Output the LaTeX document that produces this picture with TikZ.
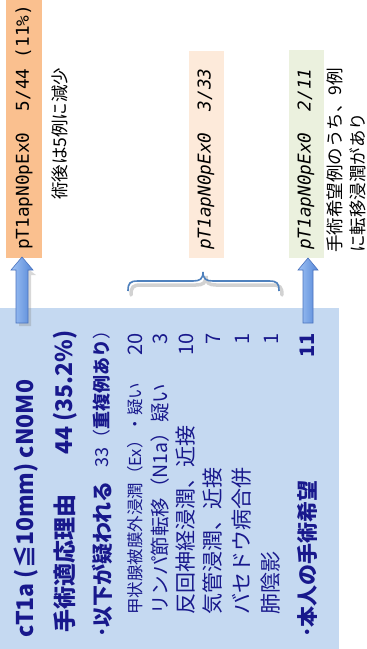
\documentclass[tikz,border=0pt]{standalone}
\usepackage{fontspec}
\setmainfont{Noto Sans CJK JP}
\newfontfamily\monof{DejaVu Sans Mono}
\definecolor{boxblue}{RGB}{197,217,241}
\definecolor{navy}{RGB}{24,24,140}
\definecolor{peach}{RGB}{250,192,143}
\definecolor{lpeach}{RGB}{253,234,218}
\definecolor{lgreen}{RGB}{235,241,222}
\definecolor{bracec}{RGB}{79,129,189}
\definecolor{arrowL}{RGB}{160,195,245}
\definecolor{arrowD}{RGB}{85,135,215}
\definecolor{arrowE}{RGB}{75,115,190}
\begin{document}
\begin{tikzpicture}[x=1pt,y=-1pt,
  panel/.style={inner sep=0pt,outer sep=0pt,anchor=north west},
  vt/.style={rotate=90,anchor=west,inner sep=0pt,text=navy},
  num/.style={rotate=90,anchor=east,inner sep=0pt,text=navy,font=\fontsize{20}{20}\selectfont},
  lbl/.style={rotate=90,anchor=west,inner sep=0pt,font=\monof\fontsize{17.7}{18}\selectfont},
  note/.style={rotate=90,anchor=west,inner sep=0pt,font=\fontsize{17.5}{18}\selectfont},
  blockarrow/.style={left color=arrowL,right color=arrowD,draw=arrowE,line width=0.6pt},
  bigb/.style={font=\bfseries\fontsize{23}{23}\selectfont},
  midb/.style={font=\bfseries\fontsize{21}{21}\selectfont},
  item/.style={font=\fontsize{21}{21}\selectfont},
]
\useasboundingbox (0,0) rectangle (367,649);
\fill[white] (0,0) rectangle (367,649);
% panels
\node[panel,fill=boxblue,minimum width=339pt,minimum height=341pt] (main) at (0,308) {};
\node[panel,fill=peach,minimum width=36pt,minimum height=258pt] (res1) at (6,0) {};
\node[panel,fill=lpeach,minimum width=35pt,minimum height=207pt] (res2) at (189,51) {};
\node[panel,fill=lgreen,minimum width=35pt,minimum height=208pt] (res3) at (289,50) {};
% labels in result boxes
\node[lbl] (l1) at (24,250) {pT1apN0pEx0~~5/44~(11\%)};
\node[lbl,font=\monof\itshape\fontsize{17.7}{18}\selectfont] (l2) at (206,250) {pT1apN0pEx0~~3/33};
\node[lbl,font=\monof\itshape\fontsize{17.7}{18}\selectfont] (l3) at (306,250) {pT1apN0pEx0~~2/11};
% notes
\node[note] (n1) at (60,200) {術後は5例に減少};
\node[note] (n2) at (335,253) {手術希望例のうち、9例};
\node[note] (n3) at (358,253) {に転移浸潤があり};
% brace with shadow
\draw[gray,opacity=0.35,line width=3.5pt,line cap=round]
  (131,295) .. controls (131,287) and (133,285) .. (141,285) -- (196,285)
  .. controls (203,285) and (206,283) .. (206,276)
  .. controls (206,283) and (209,285) .. (216,285) -- (272,285)
  .. controls (280,285) and (282,287) .. (282,295);
\draw[bracec,line width=1.6pt]
  (128,291) .. controls (128,283) and (130,281) .. (138,281) -- (193,281)
  .. controls (200,281) and (203,279) .. (203,272)
  .. controls (203,279) and (206,281) .. (213,281) -- (269,281)
  .. controls (277,281) and (279,283) .. (279,291);
% block arrows
\coordinate (a1t) at (22,257);
\coordinate (a2t) at (308,258);
\fill[gray,opacity=0.3] (19,262) -- (36,275) -- (31,275) -- (31,326) -- (19,326) -- cycle;
\path[blockarrow] (a1t) -- (33,270) -- (28,270) -- (28,323) -- (16,323) -- (16,270) -- (11,270) -- cycle;
\path[blockarrow] (a2t) -- (318,270) -- (313,270) -- (313,323) -- (303,323) -- (303,270) -- (298,270) -- cycle;
% main text
\node[vt,bigb] (r1) at (26,638) {cT1a (≦10mm) cN0M0};
\node[vt,bigb] (r2) at (65,633) {手術適応理由};
\node[vt,bigb] (r2n) at (65,455) {44 (35.2\%)};
\node[vt,midb] (r3) at (102,638) {･以下が疑われる};
\node[vt,font=\fontsize{18}{18}\selectfont] (r3n) at (102,468) {33（\textbf{重複例あり}）};
\node[vt,font=\fontsize{16.5}{17}\selectfont] (r4) at (135,615) {甲状腺被膜外浸潤（Ex）・疑い};
\node[vt,font=\fontsize{19.5}{20}\selectfont] (r5) at (160,615) {リンパ節転移（N1a）疑い};
\node[vt,item] (r6) at (186,615) {反回神経浸潤、近接};
\node[vt,item] (r7) at (213,615) {気管浸潤、近接};
\node[vt,item] (r8) at (242,615) {バセドウ病合併};
\node[vt,item] (r9) at (271,615) {肺陰影};
\node[vt,midb] (r10) at (307,638) {･本人の手術希望};
\node[num] (v4) at (135,333) {20};
\node[num] (v5) at (160,333) {3};
\node[num] (v6) at (186,333) {10};
\node[num] (v7) at (213,333) {7};
\node[num] (v8) at (242,333) {1};
\node[num] (v9) at (271,333) {1};
\node[num,font=\bfseries\fontsize{20}{20}\selectfont] (v10) at (307,333) {11};
\end{tikzpicture}
\end{document}
